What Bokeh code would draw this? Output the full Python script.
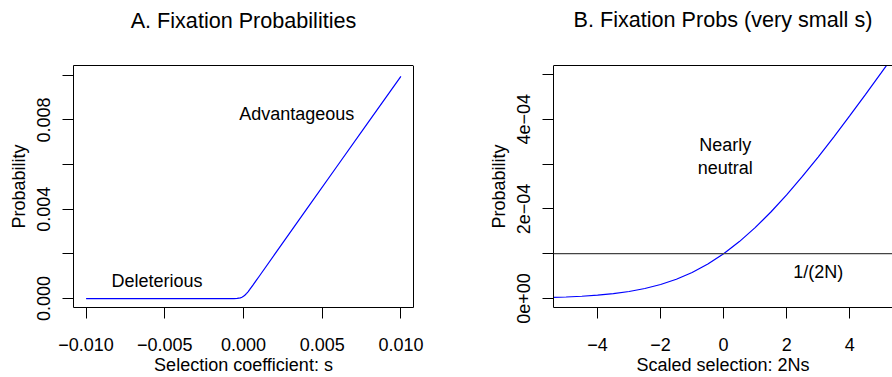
from bokeh.plotting import figure
from bokeh.layouts import row
from bokeh.models import FixedTicker, Span, LinearAxis, Range1d, Title
from bokeh.embed import file_html
from bokeh.resources import INLINE
from bokeh.core.properties import value

FONT = "Liberation Sans"

# ---- Panel A: fixation probability vs selection coefficient s ----
s_vals = [-0.010, -0.008, -0.006, -0.004, -0.002, -0.001, -0.0008, -0.0006,
          -0.0004, -0.0002, -0.0001, 0.0, 0.0001, 0.0002, 0.0003, 0.0004,
          0.0006, 0.0008, 0.001, 0.002, 0.004, 0.006, 0.008, 0.010]
prob_a = [0.0, 0.0, 0.0, 0.0, 0.0, 0.00000005, 0.00000027, 0.0000015,
          0.0000075, 0.0000313, 0.0000582, 0.0001, 0.0001582, 0.0002313,
          0.0003157, 0.0004075, 0.0006015, 0.0008003, 0.0009995, 0.001998,
          0.003992, 0.005982, 0.007968, 0.00995]

a_xticks = [-0.010, -0.005, 0.0, 0.005, 0.010]
a_xlabels = ["\u22120.010", "\u22120.005", "0.000", "0.005", "0.010"]
a_yticks = [0.0, 0.002, 0.004, 0.006, 0.008, 0.010]
a_ylabels = ["0.000", "", "0.004", "", "0.008", ""]

a_note_x = [-0.0055, 0.00338]
a_note_y = [0.00078, 0.00826]
a_note_text = ["Deleterious", "Advantageous"]

# ---- Panel B: fixation probability vs scaled selection 2Ns ----
scaled_s = [-5.5, -5.0, -4.5, -4.0, -3.5, -3.0, -2.5, -2.0, -1.5, -1.0, -0.5,
            0.0, 0.5, 1.0, 1.5, 2.0, 2.5, 3.0, 3.5, 4.0, 4.5, 5.0, 5.5]
prob_b = [2.26e-6, 3.39e-6, 5.06e-6, 7.46e-6, 1.090e-5, 1.572e-5, 2.236e-5,
          3.130e-5, 4.308e-5, 5.820e-5, 7.708e-5, 1.0e-4, 1.2708e-4,
          1.5820e-4, 1.9308e-4, 2.3130e-4, 2.7236e-4, 3.1572e-4, 3.6090e-4,
          4.0746e-4, 4.5506e-4, 5.0339e-4, 5.5226e-4]
neutral_level = 1e-4  # 1/(2N)

b_xticks = [-4, -2, 0, 2, 4]
b_xlabels = ["\u22124", "\u22122", "0", "2", "4"]
b_yticks = [0.0, 1e-4, 2e-4, 3e-4, 4e-4, 5e-4]
b_ylabels = ["0e+00", "", "2e\u221204", "", "4e\u221204", ""]

b_note_x = [0.05, 0.05, 3.0]
b_note_y = [3.42e-4, 2.92e-4, 0.60e-4]
b_note_text = ["Nearly", "neutral", "1/(2N)"]

titles = ["A. Fixation Probabilities", "B. Fixation Probs (very small s)"]


def style(p, xticks, xlabels, yticks, ylabels):
    p.grid.visible = False
    p.xaxis.ticker = FixedTicker(ticks=xticks)
    p.xaxis.major_label_overrides = dict(zip(xticks, xlabels))
    p.yaxis.ticker = FixedTicker(ticks=yticks)
    p.yaxis.major_label_overrides = dict(zip(yticks, ylabels))
    p.yaxis.major_label_orientation = "vertical"
    for ax in (p.xaxis, p.yaxis):
        ax.minor_tick_line_color = None
        ax.major_tick_in = 0
        ax.major_tick_out = 11
        ax.major_tick_line_color = "black"
        ax.major_label_text_font = FONT
        ax.major_label_text_font_size = "18px"
        ax.major_label_text_color = "black"
        ax.axis_label_text_font = FONT
        ax.axis_label_text_font_size = "18px"
        ax.axis_label_text_font_style = "normal"
        ax.axis_label_text_color = "black"
    p.xaxis.major_label_standoff = 19
    p.xaxis.axis_label_standoff = 1
    p.yaxis.major_label_standoff = 12
    p.yaxis.axis_label_standoff = 6
    p.background_fill_color = "white"
    p.border_fill_color = "white"


def add_title(p, text, gap, edge_tick, line_color):
    # top axis with one white (invisible) tick: it reserves a gap between the
    # frame and the title, and (optionally) draws the top edge of the box
    spacer = LinearAxis(ticker=FixedTicker(ticks=[edge_tick]),
                        major_tick_out=gap, major_tick_in=0,
                        major_tick_line_color="white",
                        minor_tick_line_color=None, major_label_standoff=0,
                        major_label_text_font_size="0px",
                        major_label_overrides={edge_tick: ""},
                        axis_line_color=line_color)
    p.add_layout(spacer, "above")
    p.add_layout(Title(text=text, text_font=FONT, text_font_size="21.6px",
                       text_font_style="normal", align="center",
                       text_color="black", standoff=0), "above")


# Panel A
p1 = figure(width=446, height=377, output_backend="svg", toolbar_location=None,
            x_range=Range1d(-0.0108, 0.0108), y_range=Range1d(-0.0004, 0.01044),
            min_border_left=73, min_border_right=33, min_border_top=64,
            min_border_bottom=68,
            x_axis_label="Selection coefficient: s", y_axis_label="Probability")
style(p1, a_xticks, a_xlabels, a_yticks, a_ylabels)
p1.xaxis.axis_line_color = None
p1.yaxis.axis_line_color = None
p1.outline_line_color = "black"
p1.outline_line_width = 1
add_title(p1, titles[0], 33, 0.0108, None)
p1.line(s_vals, prob_a, line_color="#0000FF", line_width=1.2)
p1.text(a_note_x, a_note_y, text=a_note_text, text_font=value(FONT),
        text_font_size="18px", text_align="center", text_baseline="middle",
        text_color="black")

# Panel B
p2 = figure(width=446, height=377, output_backend="svg", toolbar_location=None,
            x_range=Range1d(-5.4, 5.36), y_range=Range1d(-0.00002, 0.00052),
            min_border_left=107, min_border_right=0, min_border_top=65,
            min_border_bottom=68,
            x_axis_label="Scaled selection: 2Ns", y_axis_label="Probability")
style(p2, b_xticks, b_xlabels, b_yticks, b_ylabels)
p2.outline_line_color = None
p2.xaxis.axis_line_color = "black"
p2.yaxis.axis_line_color = "black"
add_title(p2, titles[1], 34, -5.4, "black")
p2.add_layout(Span(location=neutral_level, dimension="width",
                   line_color="#444444", line_width=1.2))
p2.line(scaled_s, prob_b, line_color="#0000FF", line_width=1.2)
p2.text(b_note_x, b_note_y, text=b_note_text, text_font=value(FONT),
        text_font_size="18px", text_align="center", text_baseline="middle",
        text_color="black")

layout = row(p1, p2)
open("out.html", "w").write(file_html(layout, INLINE))
